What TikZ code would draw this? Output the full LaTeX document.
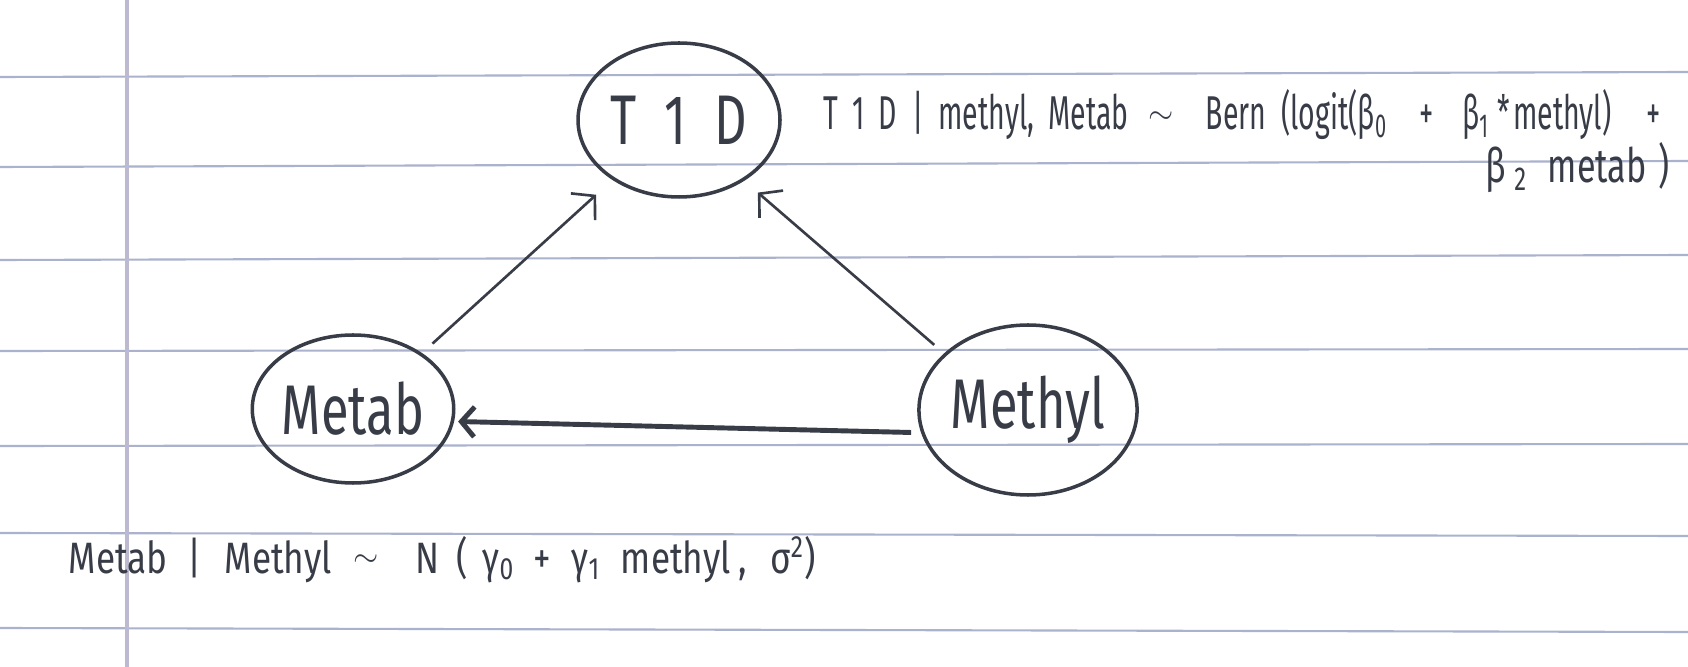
\documentclass[tikz,border=0pt]{standalone}
\usepackage{fontspec}
\setmainfont{Fira Sans}
\newfontfamily\handfont[FakeStretch=0.72]{Fira Sans}
\newfontfamily\narrowhand[FakeStretch=0.6]{Fira Sans}
\newfontfamily\widehand[FakeStretch=0.8]{Fira Sans}
\usetikzlibrary{arrows.meta,shapes.geometric}
\definecolor{ink}{HTML}{383C47}
\definecolor{rule}{HTML}{AAB2CE}
\definecolor{margin}{HTML}{BDB9D0}
\newcommand{\sub}[1]{\textsubscript{#1}}
\newcommand{\gap}[1]{\hspace{#1mm}}
\newcommand{\tld}{\raisebox{.6mm}{\small$\sim$}}

\begin{document}
\begin{tikzpicture}[x=0.1mm,y=-0.1mm,
  var/.style={ellipse,draw=ink,line width=1pt,inner sep=0pt,text=ink,font=\handfont\fontsize{20}{20}\selectfont},
  edge/.style={draw=ink,line width=.75pt,-{Straight Barb[length=1.6mm,width=3.6mm]}},
  note/.style={anchor=base west,inner sep=0pt,text=ink,font=\handfont\fontsize{12.5}{14}\selectfont}]
\useasboundingbox (0,0) rectangle (1688,667);
\fill[white] (0,0) rectangle (1688,667);
\foreach \yl/\yr in {77/72,167/161,260/255,351/349,446/444,533/536,628/632} \draw[rule,line width=.6pt] (0,\yl)--(1688,\yr);
\draw[margin,line width=.9pt] (127,0)--(127,667);
\node[var,minimum width=20.2mm,minimum height=15.4mm] (t1d) at (679,120) {T\kern.4em1\kern.4em D};
\node[var,minimum width=18.2mm,minimum height=14.8mm] (metab) at (353,409) {Metab};
\node[var,minimum width=18.4mm,minimum height=17mm] (methyl) at (1028,410) {Methyl};
\draw[edge,shorten <=1.4mm,shorten >=2.2mm] (metab.39) -- (t1d.222);
\draw[edge,shorten <=1.3mm,shorten >=1.8mm] (methyl.146) -- (t1d.317);
\draw[edge,line width=1.4pt,-{Straight Barb[length=1.3mm,width=3mm]},shorten <=1mm,shorten >=.4mm] (methyl.192) -- (metab.353);
\node[note,font=\narrowhand\fontsize{13.5}{15}\selectfont] (t1dlaw) at (823,130) {T\kern1.4mm1\kern1.4mm D\gap{1.5}|\gap{1.5}methyl,\gap{1.4}Metab\gap{2}\tld\gap{3.2}Bern\gap{1.5}(logit(β\sub{0}\gap{3.2}+\gap{2.8}β\sub{1}\gap{.8}*\gap{.3}methyl)\gap{3.5}+};
\node[note,font=\handfont\fontsize{13.5}{15}\selectfont] (t1dlaw2) at (1485,183) {β\gap{.8}\sub{2}\gap{2}metab\gap{1.2})};
\node[note,font=\widehand\fontsize{12.5}{14}\selectfont] (metablaw) at (68,573) {Metab\gap{2}|\gap{2.3}Methyl\gap{2.2}\tld\gap{3.6}N\gap{1.7}(\gap{1.5}γ\sub{0}\gap{1.8}+\gap{2.1}γ\sub{1}\gap{2}methyl\gap{.8},\gap{2.3}σ\textsuperscript{2})};
\end{tikzpicture}
\end{document}
